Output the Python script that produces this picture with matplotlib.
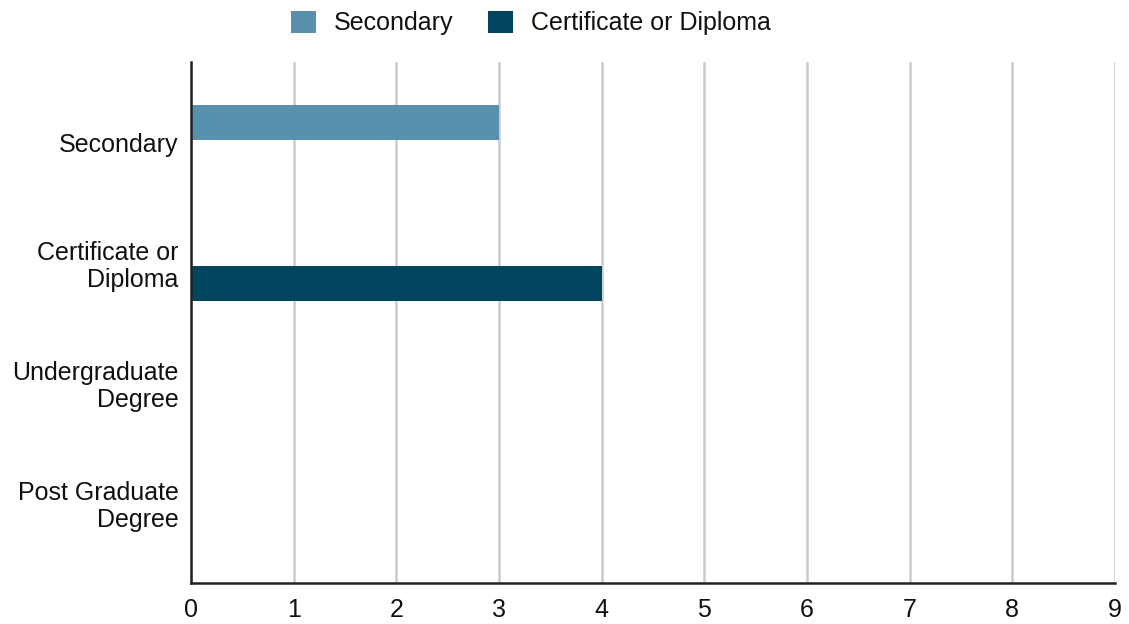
import matplotlib
matplotlib.use("Agg")
import matplotlib.pyplot as plt
import numpy as np
from matplotlib.patches import Patch

categories = ["Secondary", "Certificate or\nDiploma", "Undergraduate\nDegree", "Post Graduate\nDegree"]
series_names = ["Secondary", "Certificate or Diploma"]
secondary_vals = [3, 0, 0, 0]
certificate_vals = [0, 4, 0, 0]
x_ticks = [0, 1, 2, 3, 4, 5, 6, 7, 8, 9]
colors = ["#5891ad", "#01455f"]

plt.rcParams['font.family'] = ['Liberation Sans', 'DejaVu Sans']
FS = 18
TC = "#111111"

fig = plt.figure(figsize=(11.29, 6.24), dpi=100)
ax = fig.add_axes([191/1129, 1-583/624, (1115-191)/1129, (583-62)/624])

y = np.arange(len(categories))
h = 0.29
off = 0.171
ax.barh(y - off, secondary_vals, height=h, color=colors[0], zorder=3)
ax.barh(y + off, certificate_vals, height=h, color=colors[1], zorder=3)

ax.set_xlim(0, 9)
ax.set_ylim(3.667, -0.675)
ax.set_xticks(x_ticks)
ax.set_xticklabels([str(t) for t in x_ticks], fontsize=FS, color=TC)
ax.set_yticks(y)
ax.set_yticklabels(categories, fontsize=FS, color=TC, linespacing=1.15)
ax.tick_params(axis='both', length=0)
ax.tick_params(axis='x', pad=11)
ax.tick_params(axis='y', pad=9)
ax.grid(axis='x', color="#cccccc", linewidth=1.8, zorder=0)
ax.set_axisbelow(True)
for s in ["top", "right"]:
    ax.spines[s].set_visible(False)
for s in ["left", "bottom"]:
    ax.spines[s].set_color("#222222")
    ax.spines[s].set_linewidth(1.8)
    ax.spines[s].set_zorder(4)

handles = [Patch(facecolor=c, edgecolor='none') for c in colors]
fig.legend(handles, series_names, loc='center', bbox_to_anchor=(531/1129, 1-23/624),
           ncol=2, frameon=False, fontsize=FS, handlelength=1.0, handleheight=1.0,
           handletextpad=0.7, columnspacing=1.4, labelcolor=TC)

fig.savefig("out.png", dpi=100, facecolor="white")
